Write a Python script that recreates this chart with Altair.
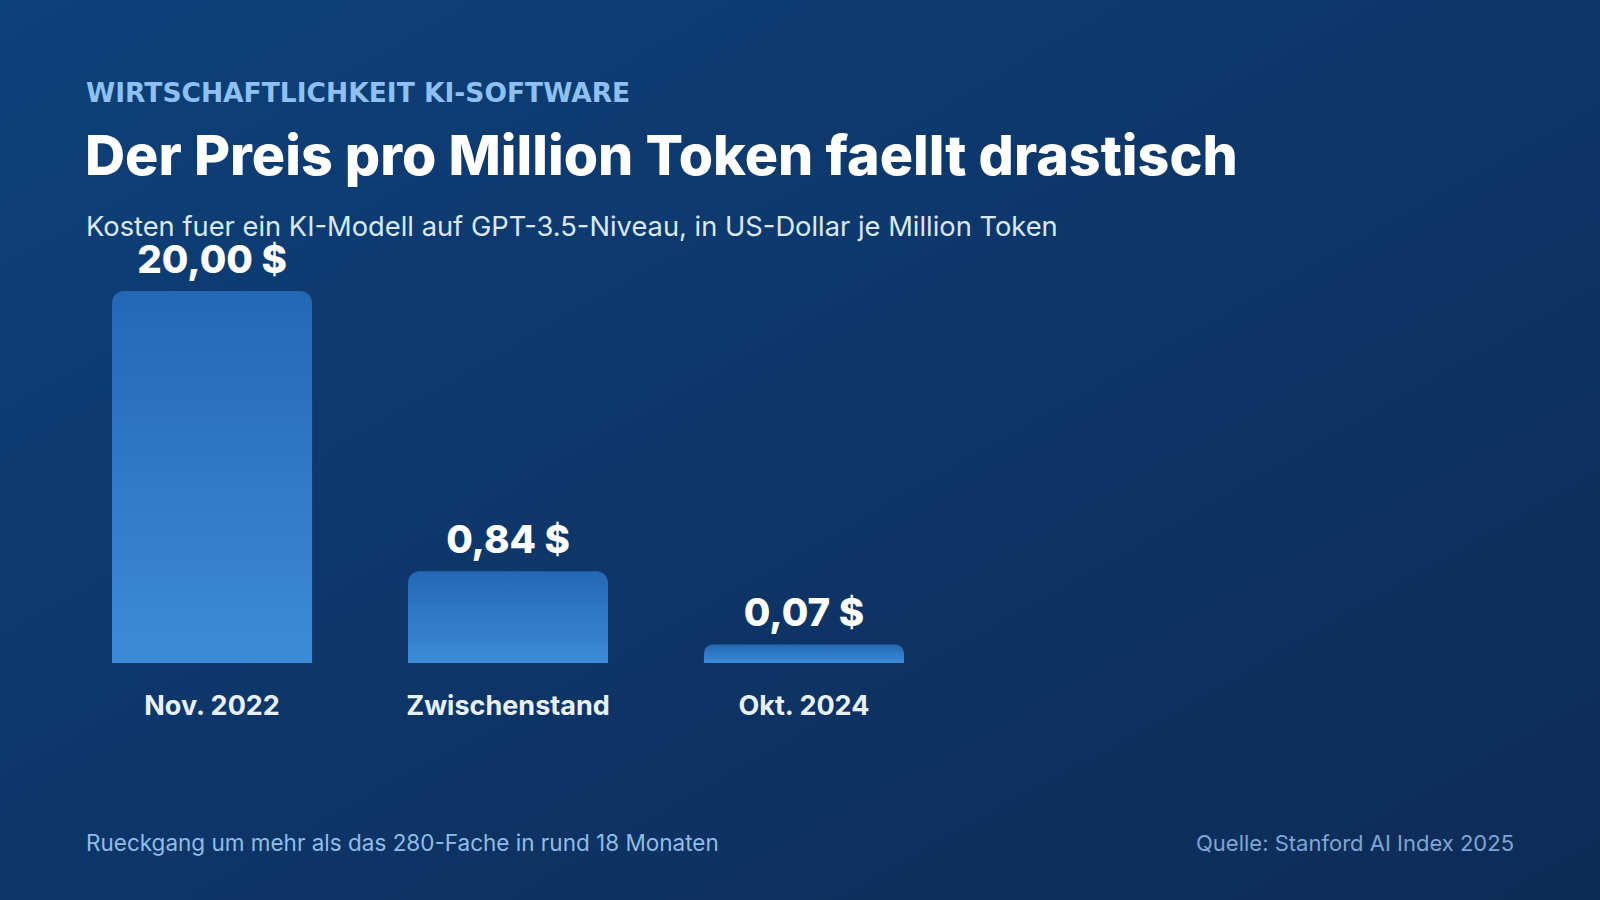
import altair as alt
import pandas as pd

# Cost of a GPT-3.5-level model, USD per million tokens
categories = ["Nov. 2022", "Zwischenstand", "Okt. 2024"]
prices = [20.00, 0.84, 0.07]

eyebrow = "WIRTSCHAFTLICHKEIT KI-SOFTWARE"
headline = "Der Preis pro Million Token faellt drastisch"
subline = "Kosten fuer ein KI-Modell auf GPT-3.5-Niveau, in US-Dollar je Million Token"
note = "Rueckgang um mehr als das 280-Fache in rund 18 Monaten"
source = "Quelle: Stanford AI Index 2025"

FONT = "Inter"
W, H = 1600, 900
Y_MIN = 0.0184  # bottom of the compressed value axis

df = pd.DataFrame({"cat": categories, "price": prices})
df["label"] = [f"{p:.2f}".replace(".", ",") + " $" for p in prices]

x_enc = alt.X(
    "cat:N",
    sort=categories,
    scale=alt.Scale(range=[112, 904], paddingInner=0.324, paddingOuter=0),
    axis=None,
)
y_scale = alt.Scale(type="pow", exponent=0.38, domain=[Y_MIN, 20], range=[663, 291], zero=False)

one = pd.DataFrame({"k": [0]})

background = alt.Chart(one).mark_rect(
    color=alt.Gradient(
        gradient="linear",
        x1=0, y1=0, x2=1, y2=1,
        stops=[
            alt.GradientStop(offset=0, color="#0d417a"),
            alt.GradientStop(offset=1, color="#0e2b57"),
        ],
    )
).encode(x=alt.value(0), x2=alt.value(W), y=alt.value(0), y2=alt.value(H))

bars = alt.Chart(df).mark_bar(
    cornerRadiusTopLeft=12,
    cornerRadiusTopRight=12,
    color=alt.Gradient(
        gradient="linear",
        x1=0, y1=0, x2=0, y2=1,
        stops=[
            alt.GradientStop(offset=0, color="#2368b4"),
            alt.GradientStop(offset=1, color="#3d8bd7"),
        ],
    ),
).encode(
    x=x_enc,
    y=alt.Y("price:Q", scale=y_scale, axis=None),
    y2=alt.datum(Y_MIN),
)

values = alt.Chart(df).mark_text(
    font=FONT, fontSize=38.5, fontWeight=800, color="#ffffff",
    baseline="alphabetic", dy=-18,
).encode(x=x_enc, y=alt.Y("price:Q", scale=y_scale, axis=None), text="label:N")

cat_labels = alt.Chart(df).mark_text(
    font=FONT, fontSize=27, fontWeight=700, color="#e8f1fb", baseline="alphabetic",
).encode(x=x_enc, y=alt.value(715), text="cat:N")


def static_text(txt, x, y, size, weight, color, align="left", font=FONT):
    return alt.Chart(pd.DataFrame({"t": [txt]})).mark_text(
        font=font, fontSize=size, fontWeight=weight, color=color,
        align=align, baseline="alphabetic",
    ).encode(x=alt.value(x), y=alt.value(y), text="t:N")


texts = [
    static_text(eyebrow, 86, 102, 26.5, 700, "#8ec1f2", font="DejaVu Sans"),
    static_text(headline, 85, 175, 55.5, 800, "#ffffff"),
    static_text(subline, 86, 236, 27.3, 400, "#dbe8f7"),
    static_text(note, 86, 851, 22.5, 400, "#8fbde8"),
    static_text(source, 1514, 851, 22, 400, "#7fa6d3", align="right"),
]

chart = alt.layer(background, bars, values, cat_labels, *texts).properties(
    width=W, height=H, autosize=alt.AutoSizeParams(type="none"), padding=0,
    background="#0e2b57",
).configure_view(strokeWidth=0)

chart.save("out.html", embed_options={"renderer": "svg", "actions": False})
